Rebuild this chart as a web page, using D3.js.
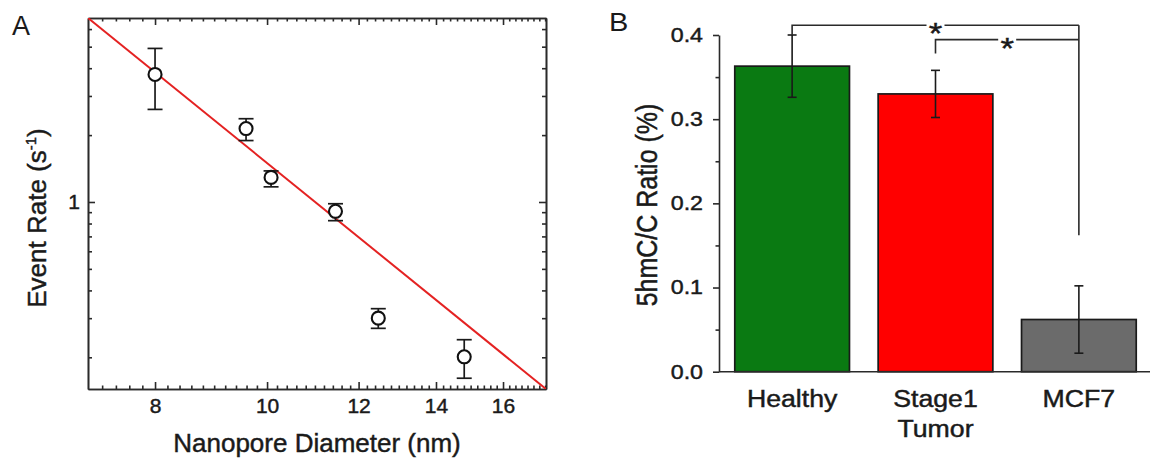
<!DOCTYPE html>
<html>
<head>
<meta charset="utf-8">
<script src="https://cdn.jsdelivr.net/npm/d3@7"></script>
<style>
  body { margin: 0; background: #fff; }
  svg { display: block; }
  svg text { font-family: "Liberation Sans", Arial, sans-serif; fill: #1a1a1a; stroke: #1a1a1a; stroke-width: 0.45; }
  svg text.letter { stroke: none; }
  .axis path, .axis line { stroke: #2a2a2a; stroke-width: 1.6; }
</style>
</head>
<body>
<svg id="chart" width="1150" height="462"></svg>
<script>
// panel A: event rate vs nanopore diameter (log-log)
const diameters = [8.0, 9.59, 10.08, 11.46, 12.48, 14.81];
const eventRates = [3.75, 2.14, 1.29, 0.908, 0.300, 0.201];
const rateLow = [2.61, 1.89, 1.17, 0.824, 0.270, 0.161];
const rateHigh = [4.91, 2.37, 1.38, 0.982, 0.331, 0.240];
const fitX = [7.0, 17.43];
const fitY = [6.73, 0.144];
const xTicksA = [8, 10, 12, 14, 16];
const yTicksA = [1];
const yMinorA = [0.2, 0.3, 0.4, 0.5, 0.6, 0.7, 0.8, 0.9, 2, 3, 4, 5, 6];

// panel B: 5hmC/C ratio
const categories = ["Healthy", "Stage1\nTumor", "MCF7"];
const ratios = [0.363, 0.330, 0.062];
const ratioErr = [0.037, 0.028, 0.040];
const barColors = ["#0a7a12", "#ff0000", "#6b6b6b"];
const yTicksB = [0, 0.1, 0.2, 0.3, 0.4];
const yMinorB = [0.05, 0.15, 0.25, 0.35];
// significance brackets: [left group, right group], bracket level, left leg end
const sigPairs = [["Healthy", "MCF7"], ["Stage1\nTumor", "MCF7"]];
const sigLevels = [0.4115, 0.3945];
const sigLeftEnd = [0.400, 0.378];
const sigRightEnd = 0.162;

const svg = d3.select("#chart");
const stretchB = 1.16; // panel B text is a bit wide in the original

// ---------- panel A ----------
const ax = d3.scaleLog().domain([7.0, 17.43]).range([88, 546]);
const ay = d3.scaleLog().domain([0.144, 6.73]).range([389, 18]);
const gA = svg.append("g");

gA.append("clipPath").attr("id", "clipA")
  .append("rect").attr("x", 88).attr("y", 18).attr("width", 458).attr("height", 371);

const xMinorA = d3.range(7.2, 17.41, 0.2).map(v => +v.toFixed(1)).filter(v => !xTicksA.includes(v));

gA.append("g").attr("class", "axis").attr("transform", "translate(0,389)")
  .call(d3.axisBottom(ax).tickValues(xTicksA).tickFormat(d3.format("d"))
    .tickSizeInner(-7).tickSizeOuter(0).tickPadding(9))
  .call(g => g.selectAll("text").attr("font-size", 21));
gA.append("g").attr("class", "axis").attr("transform", "translate(0,389)")
  .call(d3.axisBottom(ax).tickValues(xMinorA).tickFormat("").tickSizeInner(-3.5).tickSizeOuter(0));
gA.append("g").attr("class", "axis").attr("transform", "translate(0,18)")
  .call(d3.axisTop(ax).tickValues(xTicksA).tickFormat("").tickSizeInner(-7).tickSizeOuter(0));
gA.append("g").attr("class", "axis").attr("transform", "translate(0,18)")
  .call(d3.axisTop(ax).tickValues(xMinorA).tickFormat("").tickSizeInner(-3.5).tickSizeOuter(0));

gA.append("g").attr("class", "axis").attr("transform", "translate(88,0)")
  .call(d3.axisLeft(ay).tickValues(yTicksA).tickFormat(d3.format("d"))
    .tickSizeInner(-7).tickSizeOuter(0).tickPadding(8))
  .call(g => g.selectAll("text").attr("font-size", 21));
gA.append("g").attr("class", "axis").attr("transform", "translate(88,0)")
  .call(d3.axisLeft(ay).tickValues(yMinorA).tickFormat("").tickSizeInner(-4).tickSizeOuter(0));
gA.append("g").attr("class", "axis").attr("transform", "translate(546,0)")
  .call(d3.axisRight(ay).tickValues(yTicksA).tickFormat("").tickSizeInner(-7).tickSizeOuter(0));
gA.append("g").attr("class", "axis").attr("transform", "translate(546,0)")
  .call(d3.axisRight(ay).tickValues(yMinorA).tickFormat("").tickSizeInner(-4).tickSizeOuter(0));

// fit line
gA.append("path")
  .datum(d3.zip(fitX, fitY))
  .attr("clip-path", "url(#clipA)")
  .attr("fill", "none").attr("stroke", "#e42222").attr("stroke-width", 2)
  .attr("d", d3.line().x(d => ax(d[0])).y(d => ay(d[1])));

// error bars + points
const pts = gA.append("g").selectAll("g").data(diameters).join("g");
pts.append("line")
  .attr("x1", d => ax(d)).attr("x2", d => ax(d))
  .attr("y1", (d, i) => ay(rateLow[i])).attr("y2", (d, i) => ay(rateHigh[i]))
  .attr("stroke", "#1a1a1a").attr("stroke-width", 1.7);
[rateLow, rateHigh].forEach(arr => {
  pts.append("line")
    .attr("x1", d => ax(d) - 7.5).attr("x2", d => ax(d) + 7.5)
    .attr("y1", (d, i) => ay(arr[i])).attr("y2", (d, i) => ay(arr[i]))
    .attr("stroke", "#1a1a1a").attr("stroke-width", 1.7);
});
pts.append("circle")
  .attr("cx", d => ax(d)).attr("cy", (d, i) => ay(eventRates[i]))
  .attr("r", 6.5).attr("fill", "#fff").attr("stroke", "#111").attr("stroke-width", 2.1);

gA.append("text").attr("class", "letter").attr("x", 12).attr("y", 35).attr("font-size", 27).text("A");
gA.append("text").attr("x", 317).attr("y", 452).attr("text-anchor", "middle")
  .attr("font-size", 26).text("Nanopore Diameter (nm)");
const yTitleA = gA.append("text").attr("transform", "translate(46,218) rotate(-90)")
  .attr("text-anchor", "middle").attr("font-size", 26);
yTitleA.append("tspan").text("Event Rate (s");
yTitleA.append("tspan").attr("font-size", 15).attr("dy", -10).text("-1");
yTitleA.append("tspan").attr("dy", 10).text(")");

// ---------- panel B ----------
const bx = d3.scaleBand().domain(categories).range([719, 1152]).paddingInner(0.2).paddingOuter(0.11);
const by = d3.scaleLinear().domain([0, 0.4]).range([371.7, 35]);
const gB = svg.append("g");

gB.append("g").selectAll("rect").data(categories).join("rect")
  .attr("x", d => bx(d)).attr("width", bx.bandwidth())
  .attr("y", (d, i) => by(ratios[i])).attr("height", (d, i) => by(0) - by(ratios[i]))
  .attr("fill", (d, i) => barColors[i]).attr("stroke", "#1a1a1a").attr("stroke-width", 1.7);

const eb = gB.append("g").selectAll("g").data(categories).join("g")
  .attr("stroke", "#1a1a1a").attr("stroke-width", 1.6);
eb.append("line")
  .attr("x1", d => bx(d) + bx.bandwidth() / 2).attr("x2", d => bx(d) + bx.bandwidth() / 2)
  .attr("y1", (d, i) => by(ratios[i] - ratioErr[i])).attr("y2", (d, i) => by(ratios[i] + ratioErr[i]));
[-1, 1].forEach(s => {
  eb.append("line")
    .attr("x1", d => bx(d) + bx.bandwidth() / 2 - 4.5).attr("x2", d => bx(d) + bx.bandwidth() / 2 + 4.5)
    .attr("y1", (d, i) => by(ratios[i] + s * ratioErr[i])).attr("y2", (d, i) => by(ratios[i] + s * ratioErr[i]));
});

gB.append("g").attr("class", "axis").attr("transform", "translate(719,0)")
  .call(d3.axisLeft(by).tickValues(yTicksB).tickFormat(d3.format(".1f"))
    .tickSizeInner(6).tickSizeOuter(0).tickPadding(7.8))
  .call(g => g.selectAll("text").attr("font-size", 20).attr("transform", `scale(${stretchB},1)`));
gB.append("g").attr("class", "axis").attr("transform", "translate(719,0)")
  .call(d3.axisLeft(by).tickValues(yMinorB).tickFormat("").tickSizeInner(3.5).tickSizeOuter(0))
  .call(g => g.select(".domain").remove());

gB.append("g").attr("class", "axis").attr("transform", "translate(0,371.7)")
  .call(d3.axisBottom(bx).tickSize(0).tickSizeOuter(0).tickPadding(18.5))
  .call(g => g.select(".domain").attr("d", "M719,0H1150"))
  .call(g => g.selectAll("text").attr("font-size", 23).attr("transform", `scale(${stretchB},1)`)
    .each(function(d) {
      const t = d3.select(this).text("");
      d.split("\n").forEach((s, k) => t.append("tspan").attr("x", 0).attr("dy", k ? 30 : "0.71em").text(s));
    }));

gB.append("text").attr("class", "letter").attr("transform", `translate(609,31) scale(${stretchB},1)`)
  .attr("font-size", 25).text("B");
gB.append("text").attr("transform", `translate(657,205) rotate(-90) scale(1,${stretchB})`)
  .attr("text-anchor", "middle").attr("font-size", 25).text("5hmC/C Ratio (%)");

// significance brackets
const cx = c => bx(c) + bx.bandwidth() / 2;
const sig = gB.append("g").attr("fill", "none").attr("stroke", "#2a2a2a").attr("stroke-width", 1.6);
sigPairs.forEach(([a, b], i) => {
  const x1 = cx(a), x2 = cx(b), yl = by(sigLevels[i]), mid = (x1 + x2) / 2;
  sig.append("path").attr("d", `M${x1},${by(sigLeftEnd[i])}V${yl}H${mid - 9}M${mid + 9},${yl}H${x2}`);
  gB.append("text").attr("transform", `translate(${mid},${yl}) scale(${stretchB},1)`).attr("dy", "0.6em")
    .attr("text-anchor", "middle").attr("font-size", 30).text("*");
});
sig.append("path").attr("d", `M${cx("MCF7")},${by(sigLevels[0])}V${by(sigRightEnd)}`);
</script>
</body>
</html>
